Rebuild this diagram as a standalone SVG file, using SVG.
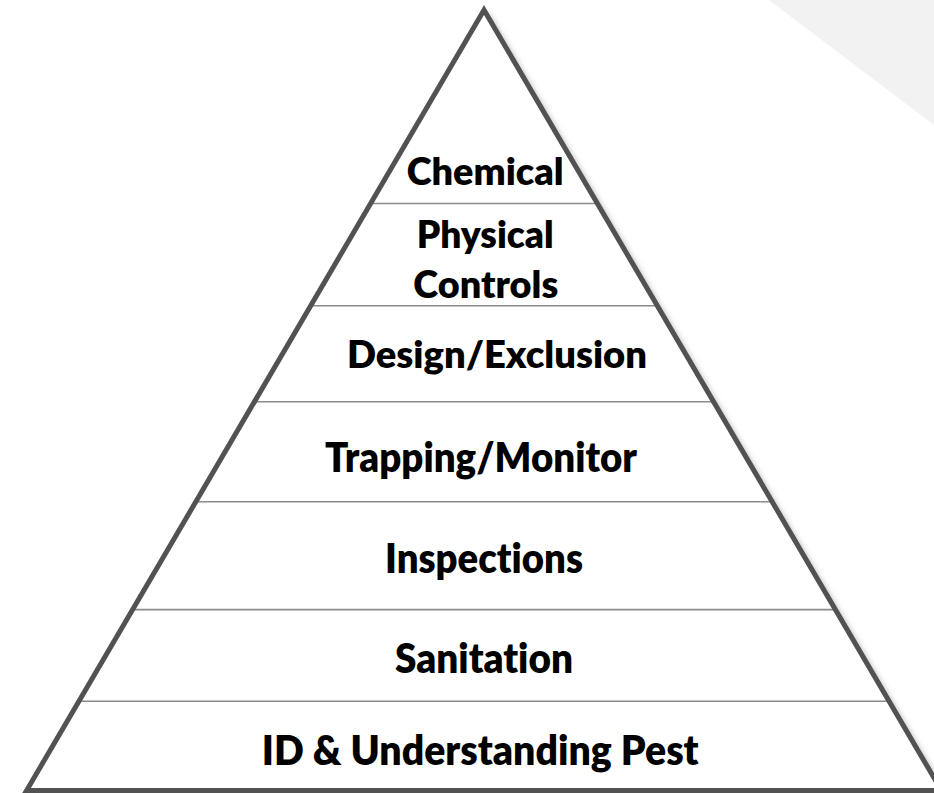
<svg xmlns="http://www.w3.org/2000/svg" width="934" height="793" viewBox="0 0 934 793">
  <style>
    .label { font-family: Lato, "Liberation Sans", Arial, sans-serif; font-weight: 800; fill: #000; font-variant-ligatures: none; font-feature-settings: "liga" 0, "clig" 0; }
    .big { font-size: 42px; }
    .small { font-size: 37px; }
    .divider { stroke: #8a8a8a; stroke-width: 1.6; fill: none; }
    .outline { fill: none; stroke: #525252; stroke-width: 5; stroke-linejoin: miter; }
  </style>
  <defs>
    <filter id="shadow" x="-10%" y="-10%" width="130%" height="130%">
      <feDropShadow dx="4" dy="3" stdDeviation="3" flood-color="#000" flood-opacity="0.35"/>
    </filter>
    <clipPath id="pyramidClip">
      <polygon points="484,10 26.6,790.5 941.4,790.5"/>
    </clipPath>
  </defs>

  <!-- corner background wedge -->
  <polygon points="769,0 934,0 934,125" fill="#f2f2f2"/>

  <!-- pyramid body -->
  <polygon id="pyramid-body" points="484,10 26.6,790.5 941.4,790.5" fill="#fff" filter="url(#shadow)"/>

  <!-- tier dividers -->
  <g id="dividers" clip-path="url(#pyramidClip)">
    <line class="divider" x1="0" y1="203.5" x2="934" y2="203.5"/>
    <line class="divider" x1="0" y1="305.8" x2="934" y2="305.8"/>
    <line class="divider" x1="0" y1="401.8" x2="934" y2="401.8"/>
    <line class="divider" x1="0" y1="501.8" x2="934" y2="501.8"/>
    <line class="divider" x1="0" y1="609.6" x2="934" y2="609.6"/>
    <line class="divider" x1="0" y1="701.2" x2="934" y2="701.2"/>
  </g>

  <!-- pyramid outline -->
  <polygon id="pyramid-outline" class="outline" points="484,10 26.6,790.5 941.4,790.5"/>

  <!-- tiers, top to bottom -->
  <g id="tier-chemical">
    <text class="label small" x="406.7" y="185" textLength="157" lengthAdjust="spacingAndGlyphs">Chemical</text>
  </g>
  <g id="tier-physical">
    <text class="label small" x="416.7" y="248.3" textLength="137" lengthAdjust="spacingAndGlyphs">Physical</text>
    <text class="label small" x="413.3" y="298.3" textLength="145" lengthAdjust="spacingAndGlyphs">Controls</text>
  </g>
  <g id="tier-design">
    <text class="label small" x="347" y="368" textLength="300" lengthAdjust="spacingAndGlyphs">Design/Exclusion</text>
  </g>
  <g id="tier-trapping">
    <text class="label big" x="325" y="471.7" textLength="312" lengthAdjust="spacingAndGlyphs">Trapping/Monitor</text>
  </g>
  <g id="tier-inspections">
    <text class="label big" x="385" y="573.3" textLength="198" lengthAdjust="spacingAndGlyphs">Inspections</text>
  </g>
  <g id="tier-sanitation">
    <text class="label big" x="395" y="672.7" textLength="178" lengthAdjust="spacingAndGlyphs">Sanitation</text>
  </g>
  <g id="tier-id">
    <text class="label big" x="261.7" y="765" textLength="437" lengthAdjust="spacingAndGlyphs">ID &amp; Understanding Pest</text>
  </g>
</svg>
